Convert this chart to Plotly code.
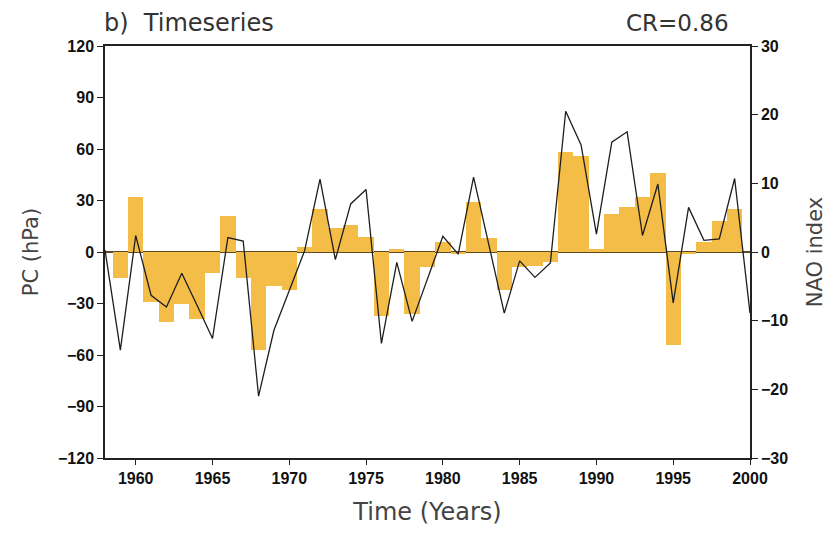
import plotly.graph_objects as go

years = list(range(1958, 2001))

# Principal component (hPa), one bar per year
pc_hpa = [0, -15, 32, -29, -41, -30, -39, -12, 21, -15, -57, -20, -22, 3,
          25, 14, 16, 9, -37, 2, -36, -9, 6, -1, 29, 8, -22, -9, -8, -6,
          58, 56, 2, 22, 26, 32, 46, -54, -1, 6, 18, 25, 0]

# Winter NAO index
nao_index = [0.3, -14.3, 2.4, -6.3, -8.0, -3.1, -7.8, -12.6, 2.1, 1.6, -21.0,
             -11.4, -5.6, 0.2, 10.6, -1.1, 7.0, 9.1, -13.3, -1.5, -10.1, -3.9,
             2.3, -0.3, 10.9, 1.0, -8.9, -1.3, -3.7, -1.6, 20.5, 15.6, 2.6,
             16.0, 17.5, 2.4, 9.9, -7.4, 6.5, 1.7, 1.9, 10.7, -8.9]

x_ticks = [1960, 1965, 1970, 1975, 1980, 1985, 1990, 1995, 2000]
left_ticks = [-120, -90, -60, -30, 0, 30, 60, 90, 120]
right_ticks = [-30, -20, -10, 0, 10, 20, 30]

tick_font = dict(family="Liberation Sans Narrow, Arial Narrow, sans-serif",
                 size=16, color="#111", weight="bold")
label_family = "DejaVu Sans, Verdana, sans-serif"
title_font = dict(family=label_family, size=21, color="#444")

fig = go.Figure()
fig.add_trace(go.Bar(x=years, y=pc_hpa, width=1.0, marker_color="#F4BD47",
                     marker_line_width=0, yaxis="y"))
fig.add_trace(go.Scatter(x=years, y=nao_index, mode="lines",
                         line=dict(color="#1e1e1e", width=1.3), yaxis="y2"))

fig.update_layout(
    width=835, height=534,
    margin=dict(l=105, r=83, t=46, b=76),
    paper_bgcolor="white", plot_bgcolor="white",
    showlegend=False, bargap=0,
    xaxis=dict(range=[1958, 2000], tickvals=x_ticks, ticktext=[str(v) for v in x_ticks],
               showgrid=False, zeroline=False, showline=True, linecolor="#222",
               linewidth=1.5, mirror=True, ticks="outside", ticklen=5,
               tickcolor="#222", tickfont=tick_font,
               title=dict(text="Time (Years)", font=dict(title_font, size=24), standoff=17)),
    yaxis=dict(range=[-120, 120], tickvals=left_ticks, showgrid=False,
               zeroline=True, zerolinecolor="#5c4a22", zerolinewidth=1.6,
               showline=True, linecolor="#222", linewidth=1.5,
               ticks="outside", ticklen=6, tickcolor="#222", tickfont=tick_font,
               layer="above traces",
               title=dict(text="PC (hPa)", font=title_font, standoff=14)),
    yaxis2=dict(range=[-30, 30], tickvals=right_ticks, overlaying="y", side="right",
                showgrid=False, zeroline=False, showline=True, linecolor="#222",
                linewidth=1.5, ticks="outside", ticklen=6, tickcolor="#222",
                tickfont=tick_font,
                title=dict(text="NAO index", font=title_font, standoff=20)),
    annotations=[
        dict(text="b)  Timeseries", xref="paper", yref="paper", x=-0.004, y=1.056,
             xanchor="left", yanchor="middle", showarrow=False,
             font=dict(family=label_family, size=24, color="#333")),
        dict(text="CR=0.86", xref="paper", yref="paper", x=0.971, y=1.056,
             xanchor="right", yanchor="middle", showarrow=False,
             font=dict(family=label_family, size=23, color="#333")),
    ],
)

fig.write_html("out.html")
